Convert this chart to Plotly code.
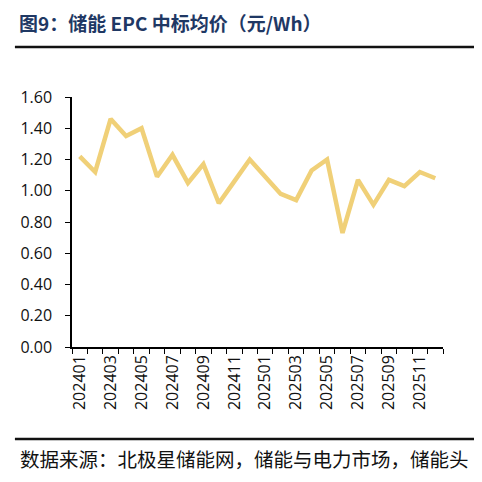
import plotly.graph_objects as go

months = ["202401", "202402", "202403", "202404", "202405", "202406",
          "202407", "202408", "202409", "202410", "202411", "202412",
          "202501", "202502", "202503", "202504", "202505", "202506",
          "202507", "202508", "202509", "202510", "202511", "202512"]
price = [1.22, 1.12, 1.46, 1.35, 1.40, 1.09,
         1.23, 1.05, 1.17, 0.92, 1.06, 1.20,
         1.09, 0.98, 0.94, 1.13, 1.20, 0.73,
         1.07, 0.91, 1.07, 1.03, 1.12, 1.08]
y_ticks = [0.0, 0.2, 0.4, 0.6, 0.8, 1.0, 1.2, 1.4, 1.6]

idx = list(range(len(months)))

fig = go.Figure()
fig.add_trace(go.Scatter(x=idx, y=price, mode="lines",
                         line=dict(color="#F0D078", width=4.5)))

tick_font = dict(family="Open Sans", size=16, color="#111111")

# page body adds an 8px offset, so margins are shifted by that
fig.update_layout(
    width=482, height=482, autosize=False,
    margin=dict(l=58, r=47, t=89, b=143),
    paper_bgcolor="white", plot_bgcolor="white",
    showlegend=False,
    xaxis=dict(range=[-0.5, len(months) - 0.5], showgrid=False, zeroline=False,
               showline=True, linecolor="black", linewidth=1.5,
               tickmode="array", tickvals=idx[::2], ticktext=months[::2],
               tickangle=-90, ticks="", tickfont=tick_font,
               minor=dict(tickmode="linear", tick0=-0.5, dtick=1, ticks="outside",
                          ticklen=5, tickwidth=1.2, tickcolor="black", showgrid=False)),
    yaxis=dict(range=[0, 1.6], showgrid=False, zeroline=False,
               showline=True, linecolor="black", linewidth=1.5,
               tickmode="array", tickvals=y_ticks, tickformat=".2f",
               ticks="outside", ticklen=5, tickwidth=1.2, tickcolor="black",
               ticklabelstandoff=10, tickfont=tick_font),
)

# plot area: 377 px wide from x=58, 250 px tall ending at y=339
x_left = -58 / 377
x_text = -55 / 377
x_right = (469 - 58) / 377

fig.add_shape(type="line", xref="paper", yref="paper",
              x0=x_left, x1=x_right, y0=(339 - 39) / 250, y1=(339 - 39) / 250,
              line=dict(color="#111111", width=2.5))
fig.add_shape(type="line", xref="paper", yref="paper",
              x0=x_left, x1=x_right, y0=(339 - 431) / 250, y1=(339 - 431) / 250,
              line=dict(color="#111111", width=2.5))

fig.add_annotation(text="<b>图9：储能 EPC 中标均价（元/Wh）</b>", xref="paper", yref="paper",
                   x=x_text, y=339 / 250, xanchor="left", yanchor="top",
                   showarrow=False, borderpad=0,
                   font=dict(family="Noto Sans CJK SC", size=19, color="#1F3864"))
fig.add_annotation(text="数据来源：北极星储能网，储能与电力市场，储能头", xref="paper", yref="paper",
                   x=x_text, y=(339 - 450) / 250, xanchor="left", yanchor="middle",
                   showarrow=False,
                   font=dict(family="Noto Sans CJK SC", size=19.5, color="#111111"))

fig.write_html("out.html")
